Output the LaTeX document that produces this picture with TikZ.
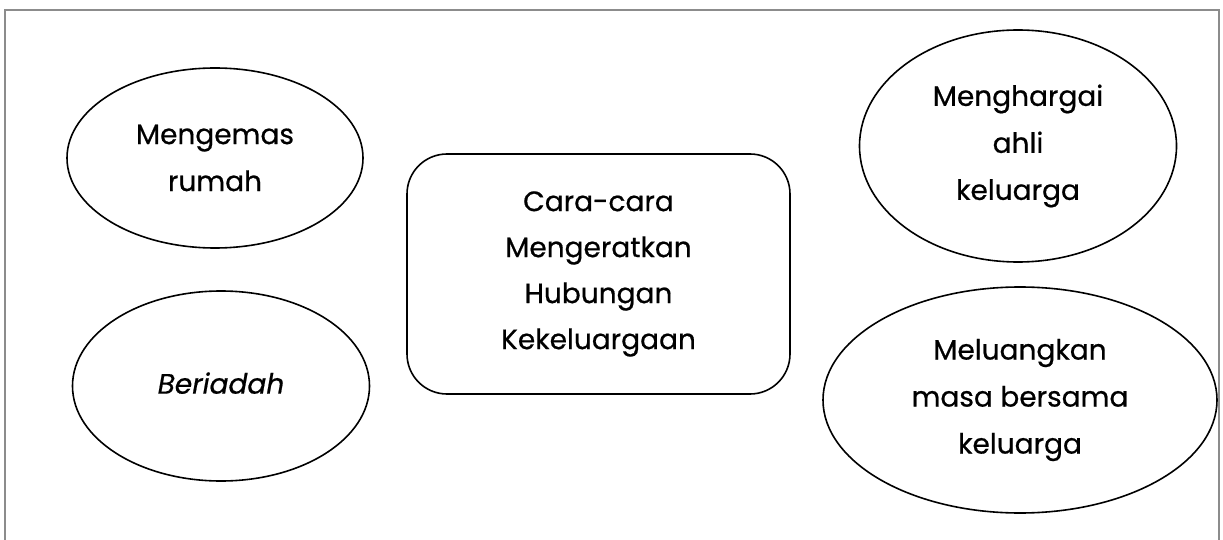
\documentclass[tikz,border=0pt]{standalone}
\usepackage{fontspec}
\setmainfont{Poppins}[FakeBold=0.6]
\usetikzlibrary{shapes.geometric}
\tikzset{
  bubble/.style={ellipse, draw=black, line width=1.6pt, inner sep=0pt, align=center,
    font=\fontsize{28}{47}\selectfont},
  centrebox/.style={rectangle, rounded corners=40pt, draw=black, line width=1.6pt, inner sep=0pt,
    align=center, font=\fontsize{28}{46}\selectfont},
  frame/.style={draw=black!45, line width=1.6pt}
}
\begin{document}
\begin{tikzpicture}[x=1pt,y=-1pt]
\useasboundingbox (0,0) rectangle (1223,540);
\coordinate (fbl) at (5,545);
\coordinate (ftl) at (5,10);
\coordinate (ftr) at (1219,10);
\coordinate (fbr) at (1219,545);
\draw[frame] (fbl) -- (ftl) -- (ftr) -- (fbr);
\node[centrebox, minimum width=383pt, minimum height=240pt] (hub) at (598.5,274) {Cara-cara\\Mengeratkan\\Hubungan\\Kekeluargaan};
\node[bubble, minimum width=296pt, minimum height=180pt] (kemas) at (215,158) {Mengemas\\rumah};
\node[bubble, minimum width=297pt, minimum height=190pt] (riadah) at (221,386) {\raisebox{6pt}{\itshape Beriadah}};
\node[bubble, minimum width=317pt, minimum height=232pt] (hargai) at (1018,146) {Menghargai\\ahli\\keluarga};
\node[bubble, minimum width=394pt, minimum height=226pt] (luang) at (1020,400) {Meluangkan\\masa bersama\\keluarga};
\end{tikzpicture}
\end{document}
